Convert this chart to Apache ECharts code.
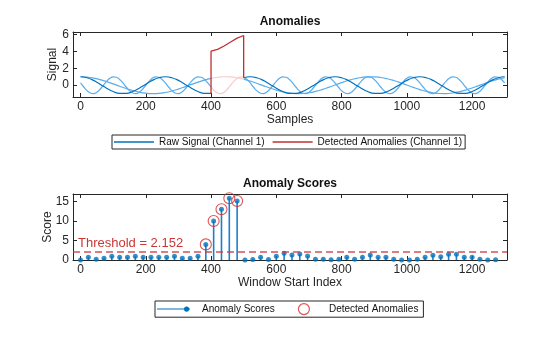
<!DOCTYPE html>
<html><head><meta charset="utf-8">
<script src="https://cdn.jsdelivr.net/npm/echarts@6/dist/echarts.min.js"></script>
<style>html,body{margin:0;padding:0;background:#fff}#c{width:560px;height:337px}</style>
</head><body><div id="c"></div>
<script>
// ---------- top panel: signals ----------
const ch1X = [0,20,40,60,80,100,120,140,160,180,200,220,240,260,280,300,320,340,360,380,400,420,440,460,480,500,520,540,560,580,600,620,640,660,680,700,720,740,760,780,800,820,840,860,880,900,920,940,960,980,1000,1020,1040,1060,1080,1100,1120,1140,1160,1180,1200,1220,1240,1260,1280,1300];
const ch1 = [1,0.885,0.568,0.12,-0.355,-0.749,-0.971,-0.971,-0.749,-0.355,0.12,0.568,0.885,
  1,0.885,0.568,0.12,-0.355,-0.749,-0.971,-0.971,-0.749,-0.355,0.12,0.568,0.885,
  1,0.885,0.568,0.12,-0.355,-0.749,-0.971,-0.971,-0.749,-0.355,0.12,0.568,0.885,
  1,0.885,0.568,0.12,-0.355,-0.749,-0.971,-0.971,-0.749,-0.355,0.12,0.568,0.885,
  1,0.885,0.568,0.12,-0.355,-0.749,-0.971,-0.971,-0.749,-0.355,0.12,0.568,0.885,
  1];
const ch3 = [1,0.96,0.845,0.662,0.427,0.158,-0.123,-0.395,-0.636,-0.825,
  -0.95,-0.999,-0.97,-0.863,-0.688,-0.459,-0.193,0.088,0.362,0.608,
  0.805,0.938,0.998,0.978,0.88,0.713,0.49,0.227,-0.053,-0.329,
  -0.579,-0.783,-0.926,-0.994,-0.984,-0.896,-0.738,-0.52,-0.262,0.018,
  0.296,0.55,0.761,0.912,0.99,0.99,0.912,0.761,0.55,0.295,
  0.017,-0.262,-0.52,-0.738,-0.897,-0.985,-0.994,-0.925,-0.783,-0.579,
  -0.329,-0.053,0.228,0.49,0.713,0.88];
const ch2X = [0,10,20,30,40,50,60,70,80,90,100,110,120,130,140,150,160,170,180,190,200,210,220,230,240,250,260,270,280,290,300,310,320,330,340,350,360,370,380,390,400,410,420,430,440,450,460,470,480,490,500,510,520,530,540,550,560,570,580,590,600,610,620,630,640,650,660,670,680,690,700,710,720,730,740,750,760,770,780,790,800,810,820,830,840,850,860,870,880,890,900,910,920,930,940,950,960,970,980,990,1000,1010,1020,1030,1040,1050,1060,1070,1080,1090,1100,1110,1120,1130,1140,1150,1160,1170,1180,1190,1200,1210,1220,1230,1240,1250,1260,1270,1280,1290,1300];
const ch2 = [0.262,-0.216,-0.645,-0.926,-0.995,-0.836,-0.486,-0.024,0.443,0.809,0.99,0.943,0.681,
  0.262,-0.216,-0.645,-0.926,-0.995,-0.836,-0.486,-0.024,0.443,0.809,0.99,0.943,0.681,
  0.262,-0.216,-0.645,-0.926,-0.995,-0.836,-0.486,-0.024,0.443,0.809,0.99,0.943,0.681,
  0.262,-0.216,-0.645,-0.926,-0.995,-0.836,-0.486,-0.024,0.443,0.809,0.99,0.943,0.681,
  0.262,-0.216,-0.645,-0.926,-0.995,-0.836,-0.486,-0.024,0.443,0.809,0.99,0.943,0.681,
  0.262,-0.216,-0.645,-0.926,-0.995,-0.836,-0.486,-0.024,0.443,0.809,0.99,0.943,0.681,
  0.262,-0.216,-0.645,-0.926,-0.995,-0.836,-0.486,-0.024,0.443,0.809,0.99,0.943,0.681,
  0.262,-0.216,-0.645,-0.926,-0.995,-0.836,-0.486,-0.024,0.443,0.809,0.99,0.943,0.681,
  0.262,-0.216,-0.645,-0.926,-0.995,-0.836,-0.486,-0.024,0.443,0.809,0.99,0.943,0.681,
  0.262,-0.216,-0.645,-0.926,-0.995,-0.836,-0.486,-0.024,0.443,0.809,0.99,0.943,0.681,
  0.262];
const anomalyStart = 400;
const anomalyEnd = 500;
const anomalyX = [400,420,440,460,480,500];
const anomalyCh1 = [4.03,4.25,4.645,5.12,5.568,5.885];
const sampleTicks = [0,200,400,600,800,1000,1200];
const signalTicks = [0,2,4,6];

// ---------- bottom panel: anomaly scores ----------
const windowStarts = [0,24,48,72,96,120,144,168,192,216,240,264,288,312,336,360,384,408,432,456,480,504,528,552,576,600,624,648,672,696,720,744,768,792,816,840,864,888,912,936,960,984,1008,1032,1056,1080,1104,1128,1152,1176,1200,1224,1248,1272];
const scores = [0,0.7,0.2,0.45,0.95,0.7,0.7,0.95,0.7,0.7,
  0.7,0.7,0.95,0.45,0.45,0.95,4.0,10.0,13.0,15.8,
  15.1,0,0.15,0.7,0.15,0.95,1.7,1.3,1.55,1.0,
  0.2,0.2,0.05,0.2,0.7,0.2,0.7,1.3,0.7,0.7,
  0.2,0,0,0.2,0.7,1.2,0.85,1.45,1.45,0.7,
  0.7,0.2,0,0.05];
const detectedWindows = [384,408,432,456,480];
const threshold = 2.152;
const scoreTicks = [0,5,10,15];

// ---------- styles ----------
const FONT = '"Liberation Sans", Arial, Helvetica, sans-serif';
const INK = '#262626';
const BLUE = '#0072BD';
const STEM = '#1A7FCC';
const LIGHT = '#58ADEE';
const PINK = '#FBCACA';
const RED = '#C22F2F';
const RING = '#D42A2A';

const outside = (xs, ys) => xs.map((x, i) => (x > anomalyStart && x < anomalyEnd) ? [x, null] : [x, ys[i]]);
const inside = (xs, ys) => xs.map((x, i) => [x, ys[i]]).filter(p => p[0] >= anomalyStart && p[0] <= anomalyEnd);
const redData = [[anomalyStart, ch1[ch1X.indexOf(anomalyStart)]]]
  .concat(anomalyX.map((x, i) => [x, anomalyCh1[i]]))
  .concat([[anomalyEnd, ch1[ch1X.indexOf(anomalyEnd)]]]);
const scoreData = windowStarts.map((x, i) => [x, scores[i]]);
const detectedData = detectedWindows.map(x => [x, scores[windowStarts.indexOf(x)]]);
const plain = v => String(v);

function xAx(grid, pos, name) {
  return {
    type: 'value', gridIndex: grid, position: pos, min: -23, max: 1307,
    axisLine: { show: true, onZero: false, lineStyle: { color: INK, width: 1 } },
    axisTick: { show: true, inside: true, length: 4, customValues: sampleTicks, lineStyle: { color: INK } },
    axisLabel: { show: pos === 'bottom', customValues: sampleTicks, formatter: plain, margin: 4, fontSize: 12, color: INK, fontFamily: FONT },
    splitLine: { show: false },
    name: name || '', nameLocation: 'middle', nameGap: 17, nameMoveOverlap: false,
    nameTextStyle: { fontSize: 12, color: INK, fontFamily: FONT }
  };
}
function yAx(grid, pos, min, max, ticks, name, gap) {
  return {
    type: 'value', gridIndex: grid, position: pos, min: min, max: max,
    axisLine: { show: true, onZero: false, lineStyle: { color: INK, width: 1 } },
    axisTick: { show: true, inside: true, length: 4, customValues: ticks, lineStyle: { color: INK } },
    axisLabel: { show: pos === 'left', customValues: ticks, formatter: plain, margin: 4, fontSize: 12, color: INK, fontFamily: FONT },
    splitLine: { show: false },
    name: name || '', nameLocation: 'middle', nameGap: gap || 0, nameMoveOverlap: false,
    nameTextStyle: { fontSize: 12, color: INK, fontFamily: FONT }
  };
}

const lineIcon = 'path://M0,0 H40 V1.3 H0 Z';
const stemIcon = 'path://M0,2.5 H33 V3.5 H0 Z M27,3 A2.6,2.6 0 1 1 32.2,3 A2.6,2.6 0 1 1 27,3 Z M40,3 L40,3.01';

const chart = echarts.init(document.getElementById('c'), null, { renderer: 'canvas' });
chart.setOption({
  animation: false,
  backgroundColor: '#fff',
  textStyle: { fontFamily: FONT },
  title: [
    { text: 'Anomalies', left: 290, textAlign: 'center', top: 16, padding: 0,
      textStyle: { fontSize: 12, fontWeight: 'bold', color: '#111', fontFamily: FONT } },
    { text: 'Anomaly Scores', left: 290, textAlign: 'center', top: 178, padding: 0,
      textStyle: { fontSize: 12, fontWeight: 'bold', color: '#111', fontFamily: FONT } }
  ],
  grid: [
    { left: 73, top: 32, width: 434, height: 65 },
    { left: 73, top: 194, width: 434, height: 66 }
  ],
  xAxis: [xAx(0, 'bottom', 'Samples'), xAx(0, 'top'), xAx(1, 'bottom', 'Window Start Index'), xAx(1, 'top')],
  yAxis: [
    yAx(0, 'left', -1.4, 6.3, signalTicks, 'Signal', 14),
    yAx(0, 'right', -1.4, 6.3, signalTicks),
    yAx(1, 'left', 0, 16.9, scoreTicks, 'Score', 19),
    yAx(1, 'right', 0, 16.9, scoreTicks)
  ],
  legend: [
    { left: 112, top: 135, orient: 'horizontal', itemWidth: 40, itemHeight: 10, itemGap: 8,
      padding: [2, 3, 2, 2], borderColor: INK, borderWidth: 1, backgroundColor: '#fff',
      textStyle: { fontSize: 10, color: '#111', fontFamily: FONT },
      selectedMode: false,
      data: [
        { name: 'Raw Signal (Channel 1)', icon: lineIcon, itemStyle: { color: BLUE } },
        { name: 'Detected Anomalies (Channel 1)', icon: lineIcon, itemStyle: { color: RED } }
      ] },
    { left: 155, top: 301, orient: 'horizontal', itemWidth: 40, itemHeight: 11, itemGap: 23,
      padding: [2, 5, 2, 2], borderColor: INK, borderWidth: 1, backgroundColor: '#fff',
      textStyle: { fontSize: 10, color: '#111', fontFamily: FONT },
      selectedMode: false,
      data: [
        { name: 'Anomaly Scores', icon: stemIcon, itemStyle: { color: BLUE } },
        { name: 'Detected Anomalies', icon: 'circle', itemStyle: { color: 'rgba(0,0,0,0)', borderColor: RING, borderWidth: 1.2 } }
      ] }
  ],
  series: [
    { name: 'Channel 2', type: 'line', xAxisIndex: 0, yAxisIndex: 0, data: outside(ch2X, ch2),
      smooth: true, symbol: 'none', connectNulls: false, lineStyle: { color: LIGHT, width: 1.2 }, itemStyle: { color: LIGHT }, z: 2 },
    { name: 'Channel 3', type: 'line', xAxisIndex: 0, yAxisIndex: 0, data: outside(ch1X, ch3),
      smooth: true, symbol: 'none', connectNulls: false, lineStyle: { color: LIGHT, width: 1.2 }, itemStyle: { color: LIGHT }, z: 2 },
    { name: 'Raw Signal (Channel 1)', type: 'line', xAxisIndex: 0, yAxisIndex: 0, data: outside(ch1X, ch1),
      smooth: true, symbol: 'none', connectNulls: false, lineStyle: { color: BLUE, width: 1.2 }, itemStyle: { color: BLUE }, z: 3 },
    { name: 'Anomaly Ch2', type: 'line', xAxisIndex: 0, yAxisIndex: 0, data: inside(ch2X, ch2),
      smooth: true, symbol: 'none', lineStyle: { color: PINK, width: 1.2 }, itemStyle: { color: PINK }, z: 3 },
    { name: 'Anomaly Ch3', type: 'line', xAxisIndex: 0, yAxisIndex: 0, data: inside(ch1X, ch3),
      smooth: true, symbol: 'none', lineStyle: { color: PINK, width: 1.2 }, itemStyle: { color: PINK }, z: 3 },
    { name: 'Detected Anomalies (Channel 1)', type: 'line', xAxisIndex: 0, yAxisIndex: 0, data: redData,
      smooth: false, symbol: 'none', lineStyle: { color: RED, width: 1.3 }, itemStyle: { color: RED }, z: 4 },

    { name: 'Anomaly Scores', type: 'bar', xAxisIndex: 2, yAxisIndex: 2, data: scoreData,
      barWidth: 1.6, itemStyle: { color: STEM, borderWidth: 0 }, z: 3, emphasis: { disabled: true } },
    { name: 'Anomaly Scores', type: 'scatter', xAxisIndex: 2, yAxisIndex: 2, data: scoreData,
      symbol: 'circle', symbolSize: 5, itemStyle: { color: BLUE }, z: 4 },
    { name: 'Detected Anomalies', type: 'scatter', xAxisIndex: 2, yAxisIndex: 2, data: detectedData,
      symbol: 'circle', symbolSize: 11,
      itemStyle: { color: 'rgba(0,0,0,0)', borderColor: RING, borderWidth: 1.1 }, z: 5,
      markLine: {
        silent: true, symbol: ['none', 'none'], animation: false,
        lineStyle: { color: 'rgba(205,55,55,0.65)', width: 2, type: [7, 4] },
        label: { show: true, position: 'insideStartTop', distance: [5, 2],
                 formatter: 'Threshold = ' + threshold.toFixed(3),
                 color: '#C83737', fontSize: 13, fontFamily: FONT },
        emphasis: { disabled: true },
        data: [{ yAxis: threshold }]
      } }
  ]
});
</script>
</body></html>
